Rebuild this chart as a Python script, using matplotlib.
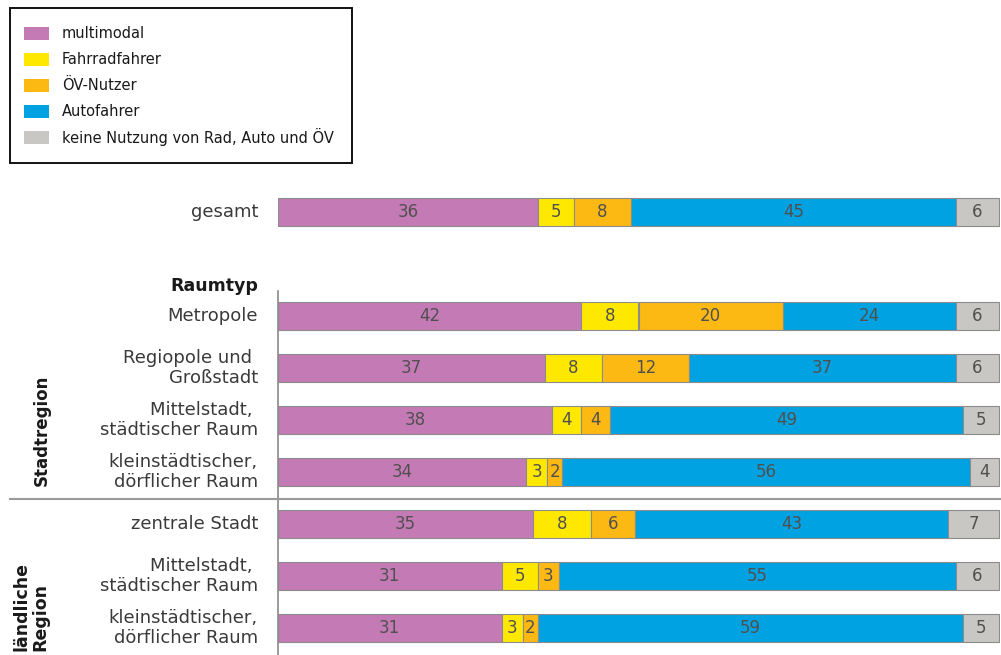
import numpy as np
import matplotlib
matplotlib.use("Agg")
import matplotlib.pyplot as plt
from matplotlib.patches import Rectangle

plt.rcParams['font.family'] = ['DejaVu Sans']

# --- data ---------------------------------------------------------------
series = ["multimodal", "Fahrradfahrer", "ÖV-Nutzer", "Autofahrer",
          "keine Nutzung von Rad, Auto und ÖV"]
colors = ["#C47BB5", "#FFE800", "#FDB913", "#00A2E1", "#C9C7C3"]

categories = ["gesamt", "Metropole", "Regiopole und \nGroßstadt",
              "Mittelstadt, \nstädtischer Raum",
              "kleinstädtischer,\ndörflicher Raum",
              "zentrale Stadt", "Mittelstadt, \nstädtischer Raum",
              "kleinstädtischer,\ndörflicher Raum"]

multimodal    = [36, 42, 37, 38, 34, 35, 31, 31]
fahrrad       = [5, 8, 8, 4, 3, 8, 5, 3]
oev           = [8, 20, 12, 4, 2, 6, 3, 2]
auto          = [45, 24, 37, 49, 56, 43, 55, 59]
keine         = [6, 6, 6, 5, 4, 7, 6, 5]

row_pos = [0, 2, 3, 4, 5, 6, 7, 8]

# --- figure -------------------------------------------------------------
W, H = 1001, 655
fig = plt.figure(figsize=(W / 100, H / 100), dpi=100)

def px_x(x):
    return x / W

def px_y(y):
    return 1 - y / H

ax_left, ax_right = 278, 1000
ax_top, ax_bot = 186, 655
ax = fig.add_axes([px_x(ax_left), px_y(ax_bot),
                   (ax_right - ax_left) / W, (ax_bot - ax_top) / H])
spacing = 52.0
y0 = 212
ax.set_ylim((ax_bot - y0) / spacing, -(y0 - ax_top) / spacing)
ax.set_xlim(0, 100 * (ax_right - ax_left) / (999 - ax_left))
ax.axis("off")

data = np.array([multimodal, fahrrad, oev, auto, keine], dtype=float)
shares = data / data.sum(axis=0) * 100

text_color = "#3a3a3a"
val_color = "#505050"
left = np.zeros(len(categories))
for k, (vals, sh) in enumerate(zip(data, shares)):
    ax.barh(row_pos, sh, left=left, height=0.54, color=colors[k],
            edgecolor="#8c8c8c", linewidth=0.8)
    for y, l, w, v in zip(row_pos, left, sh, vals):
        ax.text(l + w / 2, y, f"{int(v)}", ha="center", va="center",
                fontsize=12, color=val_color)
    left += sh

# category labels
for y, lab in zip(row_pos, categories):
    fig.text(px_x(258), px_y(y0 + y * spacing), lab, ha="right",
             va="center", fontsize=13, color=text_color, linespacing=1.18)

fig.text(px_x(258), px_y(286), "Raumtyp", ha="right", va="center",
         fontsize=12.5, fontweight="bold", color="#1a1a1a")

# group labels
fig.text(px_x(42), px_y(430), "Stadtregion", rotation=90, ha="center",
         va="center", fontsize=12, fontweight="bold", color="#1a1a1a")
fig.text(px_x(31), px_y(651), "ländliche\nRegion", rotation=90, ha="center",
         va="bottom", fontsize=12.5, fontweight="bold", color="#1a1a1a",
         multialignment="left", linespacing=1.0)

# axis line and group separator
fig.add_artist(plt.Line2D([px_x(278), px_x(278)], [px_y(291), px_y(655)],
                          color="#8a8a8a", lw=1.2))
fig.add_artist(plt.Line2D([px_x(10), px_x(1000)], [px_y(499), px_y(499)],
                          color="#9a9a9a", lw=1.5))

# legend
lax = fig.add_axes([0, 0, 1, 1], zorder=5)
lax.set_xlim(0, W)
lax.set_ylim(H, 0)
lax.axis("off")
lax.patch.set_alpha(0)
lax.add_patch(Rectangle((10, 8), 342, 155, fill=False, edgecolor="#111111",
                        lw=1.4))
for i, (name, c) in enumerate(zip(series, colors)):
    yy = 33 + i * 26
    lax.add_patch(Rectangle((24, yy - 6.5), 25, 13, facecolor=c,
                            edgecolor="none"))
    lax.text(62, yy, name, ha="left", va="center", fontsize=10.5,
             color="#1a1a1a")

fig.savefig("out.png", dpi=100)
